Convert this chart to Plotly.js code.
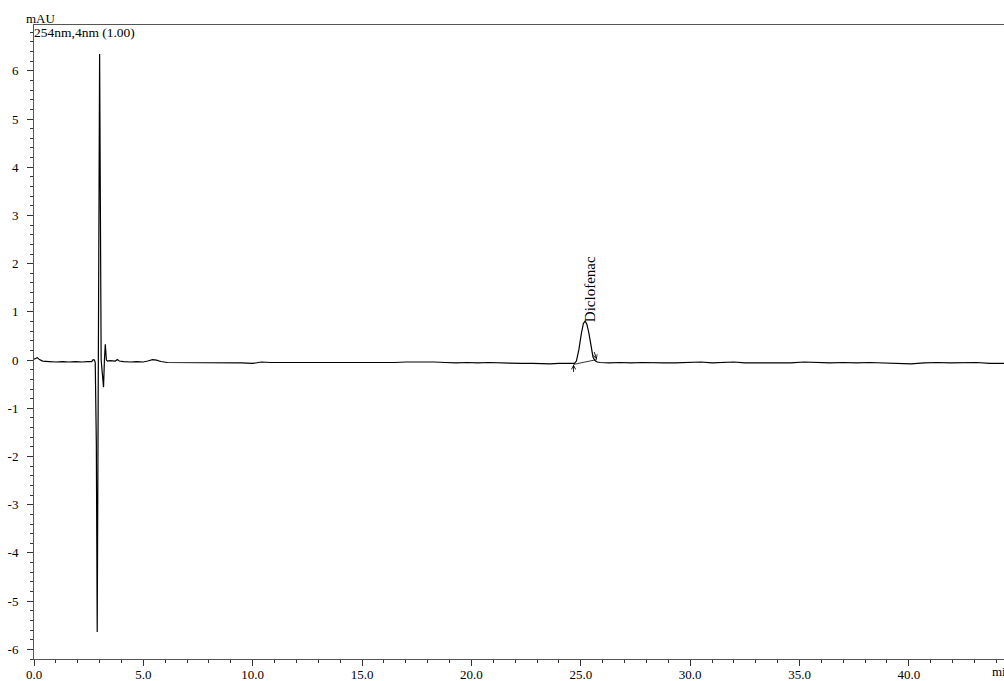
<!DOCTYPE html>
<html><head><meta charset="utf-8">
<script src="https://cdn.plot.ly/plotly-3.0.1.min.js"></script>
<style>html,body{margin:0;padding:0;background:#fff}#chart{width:1004px;height:681px}</style>
</head><body><div id="chart"></div><script>
// Chromatogram data (time in min, signal in mAU)
const timeMin = [
  0, 0.08, 0.15, 0.25, 0.4, 0.7, 1.0, 1.3, 1.6, 1.9, 2.2, 2.45, 2.64, 2.70, 2.76, 2.80, 2.83, 2.85, 2.89, 2.95, 3.00, 3.07, 3.13, 3.18, 3.22, 3.26, 3.31, 3.36, 3.47, 3.6, 3.72, 3.81, 3.9, 4.1, 4.4, 4.7, 5.0, 5.2, 5.42, 5.6, 5.8, 6.1, 6.5,
  7.0, 7.5, 8.0, 8.5, 9.0, 9.5, 10.0, 10.4, 10.8, 11.2, 11.6, 12.0, 12.5, 13.0, 13.5, 14.0, 14.5, 15.0, 15.5, 16.0, 16.5, 17.0, 17.5, 17.9, 18.3, 18.8, 19.3, 19.8, 20.3, 20.8, 21.3, 21.8, 22.3, 22.8, 23.2, 23.6, 24.0, 24.4,
  24.71, 24.80, 24.91, 25.03, 25.12, 25.20, 25.28, 25.37, 25.48, 25.56, 25.65, 25.75, 25.9,
  26.3, 26.8, 27.3, 27.8, 28.3, 28.8, 29.3, 29.8, 30.5, 31.0, 31.5, 32.0, 32.5, 33.0, 33.5, 34.0, 34.6, 35.2, 35.8, 36.4, 37.0, 37.6, 38.2, 38.8, 39.4, 40.1, 40.7, 41.3, 41.9, 42.5, 43.1, 43.7, 44.35
];
const signal = [
  0.02, 0.04, 0.05, 0.01, -0.02, -0.03, -0.04, -0.03, -0.04, -0.03, -0.04, -0.03, -0.03, 0.01, 0.00, -0.05, -0.95, -1.72, -5.64, 0.0, 6.35, 0.0, -0.35, -0.56, 0.0, 0.33, 0.0, -0.02, -0.01, -0.02, -0.02, 0.01, -0.02, -0.03, -0.04, -0.03, -0.04, -0.02, 0.01, 0.00, -0.03, -0.05, -0.05,
  -0.06, -0.05, -0.05, -0.06, -0.05, -0.06, -0.07, -0.04, -0.05, -0.05, -0.06, -0.05, -0.06, -0.05, -0.06, -0.05, -0.06, -0.05, -0.05, -0.06, -0.05, -0.04, -0.04, -0.03, -0.04, -0.05, -0.06, -0.05, -0.06, -0.05, -0.06, -0.06, -0.07, -0.07, -0.08, -0.08, -0.07, -0.07,
  -0.07, -0.02, 0.21, 0.56, 0.76, 0.81, 0.74, 0.56, 0.21, 0.06, -0.01, -0.04, -0.05,
  -0.06, -0.05, -0.06, -0.05, -0.06, -0.06, -0.06, -0.05, -0.04, -0.06, -0.05, -0.04, -0.06, -0.06, -0.05, -0.06, -0.06, -0.04, -0.05, -0.06, -0.05, -0.06, -0.05, -0.06, -0.06, -0.08, -0.06, -0.05, -0.06, -0.06, -0.05, -0.07, -0.07
];

// Peak table
const peakNames = ['Diclofenac'];
const peakApexTime = [25.2];
const peakApexHeight = [0.81];
const peakStartTime = [24.67];
const peakStartValue = [-0.09];
const peakEndTime = [25.73];
const peakEndValue = [0.01];

// Axis ticks
const xTickVals = [0, 5, 10, 15, 20, 25, 30, 35, 40];
const xTickText = ['0.0', '5.0', '10.0', '15.0', '20.0', '25.0', '30.0', '35.0', '40.0'];
const yTickVals = [-6, -5, -4, -3, -2, -1, 0, 1, 2, 3, 4, 5, 6];
const yTickText = ['-6', '-5', '-4', '-3', '-2', '-1', '0', '1', '2', '3', '4', '5', '6'];
const xRange = [0, 44.35];
const yRange = [-6.2, 6.95];

const FONT = 'Liberation Serif, Times New Roman, serif';

const traces = [
  {x: timeMin, y: signal, type: 'scatter', mode: 'lines',
   line: {color: '#000', width: 1.2}, hoverinfo: 'skip', showlegend: false}
];
peakNames.forEach((n, i) => {
  traces.push({x: [peakStartTime[i], peakEndTime[i]], y: [peakStartValue[i], peakEndValue[i]],
    type: 'scatter', mode: 'lines', line: {color: '#000', width: 0.8}, showlegend: false, hoverinfo: 'skip'});
});

const annotations = [
  {xref: 'paper', yref: 'paper', x: 0, y: 1, xanchor: 'left', yanchor: 'bottom', xshift: -10, yshift: -3,
   text: 'mAU', showarrow: false, font: {family: FONT, size: 13, color: '#000'}},
  {xref: 'paper', yref: 'paper', x: 0, y: 1, xanchor: 'left', yanchor: 'top', xshift: -2, yshift: 2,
   text: '254nm,4nm (1.00)', showarrow: false, font: {family: FONT, size: 13.5, color: '#000'}},
  {xref: 'x', yref: 'paper', x: 43.7, y: 0, xanchor: 'left', yanchor: 'top', yshift: -3,
   text: 'min', showarrow: false, font: {family: FONT, size: 13, color: '#000'}}
];
peakNames.forEach((n, i) => {
  annotations.push({x: peakApexTime[i], y: peakApexHeight[i], xref: 'x', yref: 'y',
    text: n, textangle: -90, showarrow: false, xanchor: 'center', yanchor: 'bottom', xshift: 5, yshift: -3,
    font: {family: FONT, size: 15, color: '#000'}});
  annotations.push({x: peakStartTime[i], y: peakStartValue[i], xref: 'x', yref: 'y', ax: 0, ay: 9,
    showarrow: true, arrowhead: 5, arrowsize: 0.9, arrowwidth: 0.9, arrowcolor: '#000', text: ''});
  annotations.push({x: peakEndTime[i], y: peakEndValue[i], xref: 'x', yref: 'y', ax: -3, ay: -9,
    showarrow: true, arrowhead: 5, arrowsize: 0.9, arrowwidth: 0.9, arrowcolor: '#000', text: ''});
});

const layout = {
  width: 1004, height: 681,
  margin: {l: 34, r: 0, t: 25, b: 22, pad: 0},
  paper_bgcolor: '#fff', plot_bgcolor: '#fff',
  font: {family: FONT, size: 13, color: '#000'},
  showlegend: false,
  xaxis: {range: xRange, tickmode: 'array', tickvals: xTickVals, ticktext: xTickText,
    showgrid: false, zeroline: false, showline: true, linecolor: '#555', linewidth: 1, mirror: true,
    ticks: 'outside', ticklen: 6, tickcolor: '#333', tickwidth: 1, ticklabelstandoff: -3,
    minor: {tickmode: 'linear', tick0: 0, dtick: 1, ticks: 'outside', ticklen: 3, tickcolor: '#333', showgrid: false},
    tickfont: {family: FONT, size: 13, color: '#000'}, fixedrange: true},
  yaxis: {range: yRange, tickmode: 'array', tickvals: yTickVals, ticktext: yTickText,
    showgrid: false, zeroline: false, showline: true, linecolor: '#555', linewidth: 1,
    ticks: 'outside', ticklen: 6, tickcolor: '#333', tickwidth: 1, ticklabelstandoff: 6,
    minor: {tickmode: 'linear', tick0: 0, dtick: 0.2, ticks: 'outside', ticklen: 3, tickcolor: '#333', showgrid: false},
    tickfont: {family: FONT, size: 13, color: '#000'}, fixedrange: true},
  annotations: annotations
};

Plotly.newPlot('chart', traces, layout, {displayModeBar: false, staticPlot: true});
</script></body></html>
